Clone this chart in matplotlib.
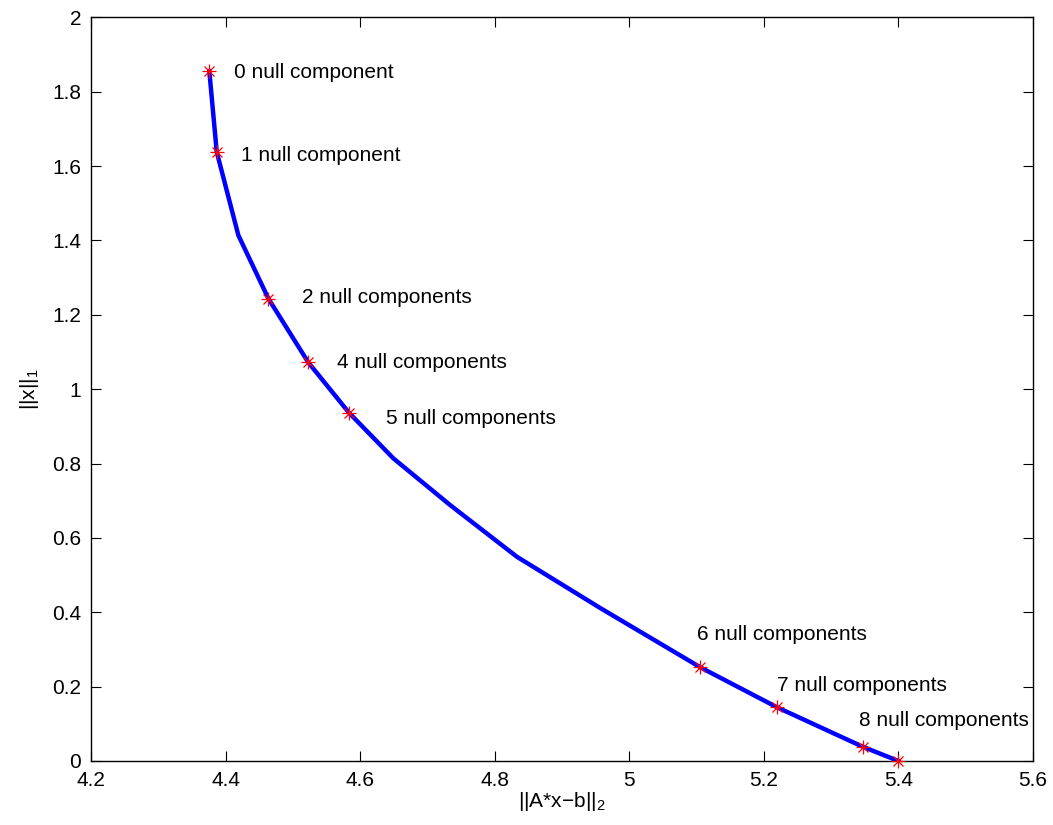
import matplotlib
matplotlib.use('Agg')
import matplotlib.pyplot as plt

plt.rcParams['font.family'] = ['Liberation Sans', 'DejaVu Sans']
plt.rcParams['mathtext.default'] = 'regular'

# trade-off curve vertices
resid = [4.3759, 4.3869, 4.4190, 4.4636, 4.5227, 4.5836, 4.6495, 4.7338,
         4.8330, 4.9569, 5.1056, 5.2196, 5.3469, 5.4000]
l1norm = [1.8548, 1.6379, 1.4140, 1.2438, 1.0726, 0.9363, 0.8137, 0.6882,
          0.5492, 0.4113, 0.2519, 0.1444, 0.0384, 0.0]

# marked points
mark_x = [4.3759, 4.3869, 4.4636, 4.5227, 4.5836, 5.1056, 5.2196, 5.3469, 5.4000]
mark_y = [1.8548, 1.6379, 1.2438, 1.0726, 0.9363, 0.2519, 0.1444, 0.0384, 0.0]

labels = ['0 null component', '1 null component', '2 null components',
          '4 null components', '5 null components', '6 null components',
          '7 null components', '8 null components']
label_x = [4.4126, 4.4230, 4.5140, 4.5660, 4.6390, 5.1010, 5.2190, 5.3420]
label_y = [1.852, 1.629, 1.247, 1.073, 0.922, 0.339, 0.202, 0.110]

fig = plt.figure(figsize=(10.53, 8.25), dpi=100)
ax = fig.add_axes([0.0864, 0.0776, 0.8946, 0.9014])

ax.plot(resid, l1norm, color='blue', lw=3.2, zorder=2)
# matlab style asterisk: plus + cross
ax.plot(mark_x, mark_y, ls='none', marker='+', color='red', ms=10,
        markeredgewidth=0.9, zorder=3, clip_on=False)
ax.plot(mark_x, mark_y, ls='none', marker='x', color='red', ms=7,
        markeredgewidth=0.9, zorder=3, clip_on=False)
for t, x, y in zip(labels, label_x, label_y):
    ax.text(x, y, t, fontsize=15, va='center', ha='left')

ax.set_xlim(4.2, 5.6)
ax.set_ylim(0, 2)
ax.set_xticks([4.2, 4.4, 4.6, 4.8, 5.0, 5.2, 5.4, 5.6])
ax.set_xticklabels(['4.2', '4.4', '4.6', '4.8', '5', '5.2', '5.4', '5.6'])
ax.set_yticks([0, 0.2, 0.4, 0.6, 0.8, 1.0, 1.2, 1.4, 1.6, 1.8, 2.0])
ax.set_yticklabels(['0', '0.2', '0.4', '0.6', '0.8', '1', '1.2', '1.4',
                    '1.6', '1.8', '2'])
ax.tick_params(direction='in', top=True, right=True, labelsize=15,
               length=7, width=0.8, pad=7)
for s in ax.spines.values():
    s.set_linewidth(1.0)

ax.set_xlabel('||A*x\u2212b||$_2$', fontsize=15, labelpad=0)
ax.set_ylabel('||x||$_1$', fontsize=15, labelpad=8)

fig.savefig('out.png', dpi=100)
